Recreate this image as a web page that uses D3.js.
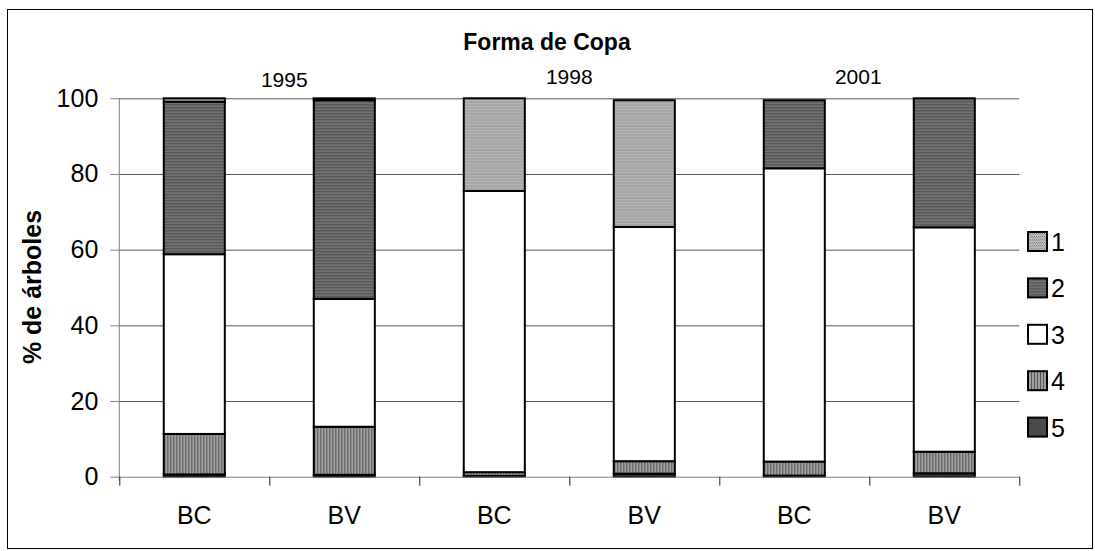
<!DOCTYPE html>
<html lang="es">
  <head>
    <meta charset="UTF-8" />
    <title>Forma de Copa</title>
    <script src="https://cdnjs.cloudflare.com/ajax/libs/d3/7.8.5/d3.min.js"></script>
    <style>
      body {
        margin: 0;
        background: #fff;
      }
      text {
        font-family: "Liberation Sans", Arial, sans-serif;
        fill: #000;
      }
      .grid line {
        stroke: #555;
        stroke-width: 1;
      }
      .grid path {
        display: none;
      }
      .yaxis path,
      .yaxis line {
        stroke: #808080;
      }
      .xaxis path {
        stroke: #808080;
      }
      .xaxis line {
        stroke: #222;
      }
      .seg {
        stroke: #000;
        stroke-width: 2;
      }
    </style>
  </head>
  <body>
    <div id="chart"></div>
    <script>
      // data (% of trees per crown form)
      const bars = ["BC95", "BV95", "BC98", "BV98", "BC01", "BV01"];
      const barLabels = ["BC", "BV", "BC", "BV", "BC", "BV"];
      const years = ["1995", "1998", "2001"];
      const forms = ["5", "4", "3", "2", "1"]; // stack order, bottom first
      const form5 = [0.6, 0.5, 0.2, 0.8, 0.3, 0.9];
      const form4 = [10.7, 12.7, 1.0, 3.3, 3.7, 5.7];
      const form3 = [47.5, 33.8, 74.3, 61.9, 77.5, 59.3];
      const form2 = [40.3, 52.5, 0, 0, 18.0, 34.1];
      const form1 = [0.9, 0.5, 24.5, 33.5, 0, 0];
      const yTicks = [0, 20, 40, 60, 80, 100];

      const table = bars.map((b, i) => ({
        bar: b,
        label: barLabels[i],
        5: form5[i],
        4: form4[i],
        3: form3[i],
        2: form2[i],
        1: form1[i],
      }));

      const W = 1095,
        H = 551;
      const margin = { top: 98.3, left: 119.3 };
      const width = 900,
        height = 378.4;

      const svg = d3
        .select("#chart")
        .append("svg")
        .attr("width", W)
        .attr("height", H);

      // hatch patterns similar to the old Excel fills
      const defs = svg.append("defs");
      function pattern(id, w, h, bg, draw) {
        const p = defs
          .append("pattern")
          .attr("id", id)
          .attr("patternUnits", "userSpaceOnUse")
          .attr("width", w)
          .attr("height", h);
        p.append("rect").attr("width", w).attr("height", h).attr("fill", bg);
        draw(p);
      }
      pattern("p1", 2, 3, "#b8b8b8", (p) => {
        p.append("rect").attr("width", 1).attr("height", 1).attr("fill", "#8a8a8a");
        p.append("rect").attr("x", 1).attr("y", 1).attr("width", 1).attr("height", 1).attr("fill", "#9a9a9a");
      });
      pattern("p2", 3, 3, "#727272", (p) => {
        p.append("rect").attr("width", 3).attr("height", 1).attr("fill", "#4e4e4e");
      });
      pattern("p4", 3, 3, "#a0a0a0", (p) => {
        p.append("rect").attr("width", 1).attr("height", 3).attr("fill", "#555");
      });
      pattern("p5", 2, 2, "#707070", (p) => {
        p.append("rect").attr("width", 1).attr("height", 1).attr("fill", "#222");
        p.append("rect").attr("x", 1).attr("y", 1).attr("width", 1).attr("height", 1).attr("fill", "#222");
      });
      const fill = { 1: "url(#p1)", 2: "url(#p2)", 3: "#fff", 4: "url(#p4)", 5: "url(#p5)" };

      // outer frame
      svg
        .append("rect")
        .attr("x", 7.5)
        .attr("y", 9.5)
        .attr("width", 1085)
        .attr("height", 539)
        .attr("fill", "none")
        .attr("stroke", "#000")
        .attr("stroke-width", 1);

      const g = svg
        .append("g")
        .attr("transform", `translate(${margin.left},${margin.top})`);

      const x = d3
        .scaleBand()
        .domain(bars)
        .range([0, width])
        .paddingInner(0.593)
        .paddingOuter(0.2965);
      const xEdge = d3.scaleLinear().domain([0, bars.length]).range([0, width]);
      const y = d3.scaleLinear().domain([0, 100]).range([height, 0]);

      // gridlines
      g.append("g")
        .attr("class", "grid")
        .call(d3.axisLeft(y).tickValues(yTicks.slice(1)).tickSize(-width).tickFormat(""));

      // stacked bars
      const stack = d3.stack().keys(forms)(table);
      g.selectAll(".layer")
        .data(stack)
        .join("g")
        .attr("class", "layer")
        .attr("fill", (d) => fill[d.key])
        .selectAll("rect")
        .data((d) => d.filter((v) => v[1] - v[0] > 0))
        .join("rect")
        .attr("class", "seg")
        .attr("x", (d) => x(d.data.bar))
        .attr("width", x.bandwidth())
        .attr("y", (d) => y(d[1]))
        .attr("height", (d) => y(d[0]) - y(d[1]));

      // y axis
      const yAxis = g
        .append("g")
        .attr("class", "yaxis")
        .call(d3.axisLeft(y).tickValues(yTicks).tickSize(9).tickPadding(12).tickSizeOuter(0));
      yAxis.selectAll("text").style("font-size", "25px");
      yAxis.select(".domain").attr("d", `M0,0V${height + 4}`);

      // x axis: boundary ticks + category labels
      g.append("g")
        .attr("class", "xaxis")
        .attr("transform", `translate(0,${height})`)
        .call(d3.axisBottom(xEdge).ticks(bars.length).tickSize(9).tickSizeOuter(0).tickFormat(""));

      g.append("g")
        .selectAll("text")
        .data(table)
        .join("text")
        .attr("x", (d) => x(d.bar) + x.bandwidth() / 2)
        .attr("y", height + 47)
        .attr("text-anchor", "middle")
        .style("font-size", "25px")
        .text((d) => d.label);

      // year labels above the pairs
      const yearShift = [15, 0, -11];
      g.append("g")
        .selectAll("text")
        .data(years)
        .join("text")
        .attr("x", (d, i) => xEdge(i * 2 + 1) + yearShift[i])
        .attr("y", (d, i) => (i === 0 ? -11 : -14))
        .attr("text-anchor", "middle")
        .style("font-size", "21px")
        .text((d) => d);

      // title
      svg
        .append("text")
        .attr("x", 547)
        .attr("y", 50)
        .attr("text-anchor", "middle")
        .style("font-size", "23px")
        .style("font-weight", "bold")
        .text("Forma de Copa");

      // y title
      svg
        .append("text")
        .attr("transform", "translate(41,287) rotate(-90)")
        .attr("text-anchor", "middle")
        .style("font-size", "25px")
        .style("font-weight", "bold")
        .text("% de árboles");

      // legend (1 on top)
      const legend = svg
        .append("g")
        .selectAll("g")
        .data(forms.slice().reverse())
        .join("g")
        .attr("transform", (d, i) => `translate(1028,${242 + i * 46.4})`);
      legend
        .append("rect")
        .attr("x", 0)
        .attr("y", -10)
        .attr("width", 19)
        .attr("height", 19)
        .attr("fill", (d) => fill[d])
        .attr("stroke", "#000")
        .attr("stroke-width", 2);
      legend
        .append("text")
        .attr("x", 23)
        .attr("y", 9)
        .style("font-size", "25px")
        .text((d) => d);
    </script>
  </body>
</html>
